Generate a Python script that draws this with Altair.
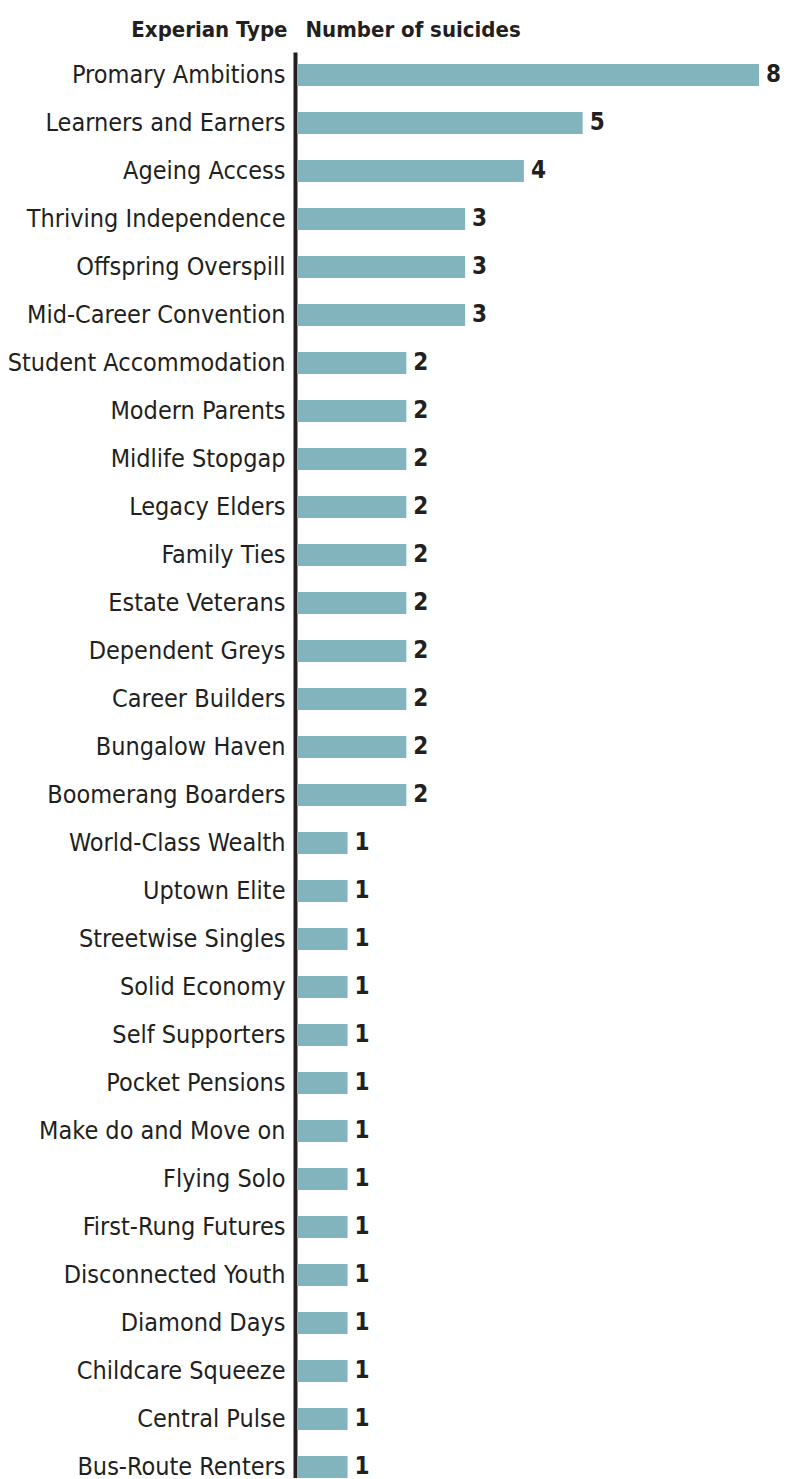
import altair as alt
import pandas as pd

categories = [
    "Promary Ambitions", "Learners and Earners", "Ageing Access",
    "Thriving Independence", "Offspring Overspill", "Mid-Career Convention",
    "Student Accommodation", "Modern Parents", "Midlife Stopgap",
    "Legacy Elders", "Family Ties", "Estate Veterans", "Dependent Greys",
    "Career Builders", "Bungalow Haven", "Boomerang Boarders",
    "World-Class Wealth", "Uptown Elite", "Streetwise Singles",
    "Solid Economy", "Self Supporters", "Pocket Pensions",
    "Make do and Move on", "Flying Solo", "First-Rung Futures",
    "Disconnected Youth", "Diamond Days", "Childcare Squeeze",
    "Central Pulse", "Bus-Route Renters",
]
values = [8, 5, 4, 3, 3, 3, 2, 2, 2, 2, 2, 2, 2, 2, 2, 2,
          1, 1, 1, 1, 1, 1, 1, 1, 1, 1, 1, 1, 1, 1]

df = pd.DataFrame({"type": categories, "count": values})

FONT = "DejaVu Sans Condensed, Liberation Sans Narrow, sans-serif"
INK = "#231f20"

x = alt.X(
    "count:Q",
    scale=alt.Scale(domain=[0.14, 8], nice=False, zero=False),
    axis=alt.Axis(
        orient="top", labels=False, ticks=False, domain=False, grid=False,
        title="Number of suicides", titleFont=FONT, titleFontSize=22,
        titleFontWeight="bold", titleColor=INK, titleAnchor="start",
        titleAlign="left", titleBaseline="alphabetic", titleX=8, titleY=-16,
    ),
)
y = alt.Y(
    "type:N",
    sort=categories,
    scale=alt.Scale(paddingInner=0.54, paddingOuter=0.125, align=1),
    axis=alt.Axis(
        title="Experian Type", titleAngle=0, titleAlign="right",
        titleBaseline="alphabetic", titleX=-8, titleY=-16,
        titleFont=FONT, titleFontSize=22, titleFontWeight="bold", titleColor=INK,
        labelFont=FONT, labelFontSize=25, labelColor=INK, labelPadding=10,
        labelLimit=400, ticks=False, domainColor=INK, domainWidth=4,
        offset=2, grid=False,
    ),
)

base = alt.Chart(df).encode(x=x, y=y)

bars = base.mark_bar(color="#82b4bd", clip=True)
labels = base.mark_text(
    align="left", baseline="middle", dx=7, font=FONT, fontSize=24,
    fontWeight="bold", color=INK,
).encode(text="count:Q")

chart = (
    alt.layer(bars, labels)
    .properties(
        width=462, height=1426,
        autosize=alt.AutoSizeParams(type="none"),
        padding={"left": 289, "top": 44, "right": 22, "bottom": 0},
        background="white",
    )
    .configure_view(strokeWidth=0, stroke="transparent")
)

chart.save("out.html", embed_options={"renderer": "svg", "actions": False})
